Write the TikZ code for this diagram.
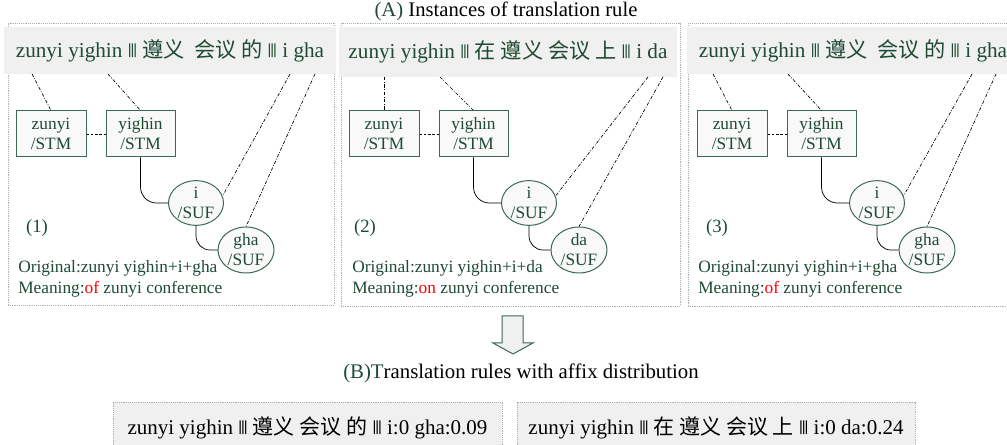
\documentclass[tikz,border=0pt]{standalone}
\usepackage{fontspec}
\setmainfont{Liberation Serif}
\newfontfamily\cjk{Noto Sans CJK SC}
\newfontfamily\barf{Liberation Sans}
\usetikzlibrary{shapes.geometric}
\newdimen\pxu \pxu=0.75pt
\definecolor{txtc}{RGB}{30,75,50}
\definecolor{boxc}{RGB}{60,105,80}
\definecolor{boxfill}{RGB}{249,249,249}
\definecolor{barfill}{RGB}{240,240,240}
\definecolor{framec}{RGB}{170,178,178}
\newcommand\tbar{\raisebox{2.3pt}{\barf\fontsize{11}{12}\selectfont|\kern-0.8pt|\kern-0.8pt|}}
\tikzset{
  frame/.style={draw=framec, line width=0.6pt, dash pattern=on 0.7pt off 0.7pt, inner sep=0},
  bar/.style={fill=barfill, inner sep=0, text=txtc, font=\fontsize{15.9}{18}\selectfont},
  rulebox/.style={fill=barfill, draw=framec, line width=0.6pt, dash pattern=on 0.7pt off 0.7pt, inner sep=0, text=black, font=\fontsize{15.75}{18}\selectfont},
  stm/.style={draw=boxc, fill=boxfill, line width=0.75pt, rectangle, inner sep=0, align=center, text=txtc, font=\fontsize{13}{15}\selectfont, minimum height=46\pxu},
  suf/.style={draw=boxc, fill=boxfill, line width=0.75pt, ellipse, inner sep=0, align=center, text=txtc, font=\fontsize{13}{15}\selectfont},
  conn/.style={draw=black, line width=0.55pt},
  link/.style={draw=black, line width=0.5pt, dash pattern=on 2.5pt off 1.2pt on 0.6pt off 1.2pt},
  bdash/.style={draw=black, line width=0.5pt, dash pattern=on 2pt off 1.2pt},
  lbl/.style={text=txtc, inner sep=0, font=\fontsize{14}{16}\selectfont},
  info/.style={text=txtc, inner sep=0, anchor=west, font=\fontsize{13}{15}\selectfont},
  ttl/.style={inner sep=0, font=\fontsize{15.5}{18}\selectfont},
  hollow/.style={draw=boxc, fill=barfill, line width=0.75pt, line join=miter},
}
\begin{document}
\begin{tikzpicture}[x=0.75pt, y=-0.75pt]
\useasboundingbox (0,0) rectangle (1007,445);

% title A
\node[ttl] (titleA) at (506,11) {{\color{txtc}(A)} Instances of translation rule};

% ---------- panel 1 ----------
\begin{scope}
\node[frame, minimum width=326\pxu, minimum height=282\pxu] (f1) at (171,164) {};
\node[bar, minimum width=332\pxu, minimum height=47\pxu] (b1) at (170,50.5)
  {zunyi yighin \tbar{} {\cjk 遵义}\hspace{7pt}{\cjk 会议 的} \tbar{} i gha};
\node[stm, minimum width=70\pxu] (z1) at (51,134) {zunyi\\/STM};
\node[stm, minimum width=69\pxu] (y1) at (140.5,134) {yighin\\/STM};
\node[suf, minimum width=55\pxu, minimum height=42\pxu] (i1) at (196,203) {i\\/SUF};
\node[suf, minimum width=56\pxu, minimum height=46\pxu] (g1) at (246,250) {gha\\/SUF};
\coordinate (a1) at (32,74);
\coordinate (c1) at (108,74);
\coordinate (d1) at (290,74);
\coordinate (e1) at (315,74);
\draw[link] (a1) -- (z1.north);
\draw[link] (c1) -- (y1.north);
\draw[link] (d1) -- (i1.15);
\draw[link] (e1) -- (g1.north);
\draw[bdash] (z1.east) -- (y1.west);
\draw[conn, rounded corners=16\pxu] (y1.south) |- (i1.west);
\draw[conn, rounded corners=14\pxu] (i1.south) |- (g1.west);
\node[lbl] (n1) at (37,228) {(1)};
\node[info] (o1) at (18,268) {Original:zunyi yighin+i+gha};
\node[info] (m1) at (18,289) {Meaning:\textcolor{red}{of} zunyi conference};
\end{scope}

% ---------- panel 2 ----------
\begin{scope}[shift={(333,0)}]
\node[frame, minimum width=339\pxu, minimum height=283\pxu] (f2) at (177.5,164.5) {};
\node[bar, minimum width=338\pxu, minimum height=50\pxu] (b2) at (175,52)
  {zunyi yighin \tbar{} {\cjk 在 遵义 会议 上} \tbar{} i da};
\node[stm, minimum width=70\pxu] (z2) at (51,134) {zunyi\\/STM};
\node[stm, minimum width=69\pxu] (y2) at (140.5,134) {yighin\\/STM};
\node[suf, minimum width=55\pxu, minimum height=42\pxu] (i2) at (196,203) {i\\/SUF};
\node[suf, minimum width=56\pxu, minimum height=46\pxu] (g2) at (246,250) {da\\/SUF};
\coordinate (a2) at (51,77);
\coordinate (c2) at (107,77);
\coordinate (d2) at (315,77);
\coordinate (e2) at (330,77);
\draw[link] (a2) -- (z2.north);
\draw[link] (c2) -- (y2.north);
\draw[link] (d2) -- (i2.15);
\draw[link] (e2) -- (g2.north);
\draw[bdash] (z2.east) -- (y2.west);
\draw[conn, rounded corners=16\pxu] (y2.south) |- (i2.west);
\draw[conn, rounded corners=14\pxu] (i2.south) |- (g2.west);
\node[lbl] (n2) at (32,228) {(2)};
\node[info] (o2) at (19,268) {Original:zunyi yighin+i+da};
\node[info] (m2) at (19,289) {Meaning:\textcolor{red}{on} zunyi conference};
\end{scope}

% ---------- panel 3 ----------
\begin{scope}[shift={(681,0)}]
\node[frame, minimum width=324\pxu, minimum height=283\pxu] (f3) at (169,164.5) {};
\node[bar, minimum width=332\pxu, minimum height=47\pxu] (b3) at (172,50.5)
  {zunyi yighin \tbar{} {\cjk 遵义}\hspace{7pt}{\cjk 会议 的} \tbar{} i gha};
\node[stm, minimum width=70\pxu] (z3) at (51,134) {zunyi\\/STM};
\node[stm, minimum width=69\pxu] (y3) at (140.5,134) {yighin\\/STM};
\node[suf, minimum width=55\pxu, minimum height=42\pxu] (i3) at (196,203) {i\\/SUF};
\node[suf, minimum width=56\pxu, minimum height=46\pxu] (g3) at (246,250) {gha\\/SUF};
\coordinate (a3) at (32,74);
\coordinate (c3) at (107,74);
\coordinate (d3) at (291,74);
\coordinate (e3) at (315,74);
\draw[link] (a3) -- (z3.north);
\draw[link] (c3) -- (y3.north);
\draw[link] (d3) -- (i3.15);
\draw[link] (e3) -- (g3.north);
\draw[bdash] (z3.east) -- (y3.west);
\draw[conn, rounded corners=16\pxu] (y3.south) |- (i3.west);
\draw[conn, rounded corners=14\pxu] (i3.south) |- (g3.west);
\node[lbl] (n3) at (36,228) {(3)};
\node[info] (o3) at (17,268) {Original:zunyi yighin+i+gha};
\node[info] (m3) at (17,289) {Meaning:\textcolor{red}{of} zunyi conference};
\end{scope}

% ---------- arrow and part B ----------
\draw[hollow] (502,316) -- (523,316) -- (523,343) -- (533,343) -- (513,354) -- (493,343) -- (502,343) -- cycle;
\node[ttl, anchor=west, font=\fontsize{15.6}{18}\selectfont] (titleB) at (343,373) {{\color{txtc}(B)T}ranslation rules with affix distribution};
\node[rulebox, minimum width=389\pxu, minimum height=52\pxu] (r1) at (307.5,428)
  {zunyi yighin \tbar{} {\cjk 遵义 会议 的} \tbar{} i:0 gha:0.09};
\node[rulebox, minimum width=398\pxu, minimum height=52\pxu] (r2) at (716,428)
  {zunyi yighin \tbar{} {\cjk 在 遵义 会议 上} \tbar{} i:0 da:0.24};
\end{tikzpicture}
\end{document}
